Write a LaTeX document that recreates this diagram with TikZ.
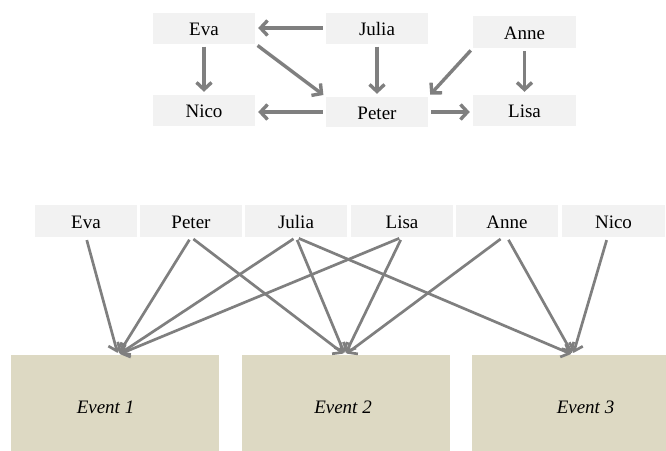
\documentclass[tikz,border=0pt]{standalone}
\usepackage{fontspec}
\setmainfont{Liberation Serif}
\usetikzlibrary{arrows.meta}
\definecolor{boxgray}{HTML}{F2F2F2}
\definecolor{tanbox}{HTML}{DDD9C3}
\definecolor{arrgray}{HTML}{7F7F7F}
\begin{document}
\begin{tikzpicture}[x=1pt,y=-1pt,
  pbox/.style={fill=boxgray, inner sep=0pt, minimum width=102pt, minimum height=31pt,
    text height=14.5pt, text depth=0pt, font=\fontsize{19}{22}\selectfont},
  ebox/.style={fill=tanbox, inner sep=0pt},
  etext/.style={anchor=base, inner sep=0pt, font=\fontsize{19}{22}\selectfont\itshape},
  toparr/.style={draw=arrgray, line width=3.4pt,
    -{Straight Barb[length=7pt,width=15pt]}, shorten <=3pt, shorten >=3pt},
  botarr/.style={draw=arrgray, line width=2.7pt,
    -{Straight Barb[length=7pt,width=14pt]}, shorten <=3pt, shorten >=2pt}]
\useasboundingbox (0,0) rectangle (666,450);

% top graph
\node[pbox] (eva) at (204,28) {Eva};
\node[pbox] (julia) at (377,28) {Julia};
\node[pbox, minimum width=103pt, minimum height=32pt] (anne) at (524.5,32) {Anne};
\node[pbox] (nico) at (204,110.5) {Nico};
\node[pbox, minimum height=30pt] (peter) at (377,112) {Peter};
\node[pbox, minimum width=103pt] (lisa) at (524.5,110.5) {Lisa};

\draw[toparr] (julia.west) -- (eva.east);
\draw[toparr] (eva.south) -- (nico.north);
\draw[toparr] (eva.south east) -- (peter.north west);
\draw[toparr] (julia.south) -- (peter.north);
\draw[toparr] (anne.south west) -- (peter.north east);
\draw[toparr] (anne.south) -- (lisa.north);
\draw[toparr] (peter.west) -- (peter.west -| nico.east);
\draw[toparr] (peter.east) -- (peter.east -| lisa.west);

% bottom row
\node[pbox, minimum height=32pt] (eva2) at (86,221) {Eva};
\node[pbox, minimum height=32pt] (peter2) at (191,221) {Peter};
\node[pbox, minimum height=32pt] (julia2) at (296,221) {Julia};
\node[pbox, minimum height=32pt] (lisa2) at (402,221) {Lisa};
\node[pbox, minimum height=32pt] (anne2) at (507,221) {Anne};
\node[pbox, minimum height=32pt, minimum width=103pt] (nico2) at (613.5,221) {Nico};

% events
\node[ebox, minimum width=208pt, minimum height=96pt] (ev1) at (115,403) {};
\node[ebox, minimum width=208pt, minimum height=96pt] (ev2) at (346,403) {};
\node[ebox, minimum width=194pt, minimum height=96pt] (ev3) at (569,403) {};
\node[etext] (ev1t) at (105.5,413) {Event 1};
\node[etext] (ev2t) at (343,413) {Event 2};
\node[etext] (ev3t) at (585.5,413) {Event 3};

\coordinate (t1) at ([xshift=3pt]ev1.north);
\coordinate (t2) at ([xshift=-1pt]ev2.north);
\coordinate (t3) at ([xshift=4pt]ev3.north);

\draw[botarr] (eva2.south) -- (t1);
\draw[botarr] (peter2.south) -- (t1);
\draw[botarr] (peter2.south) -- (t2);
\draw[botarr] (julia2.south) -- (t1);
\draw[botarr] (julia2.south) -- (t2);
\draw[botarr] (julia2.south) -- (t3);
\draw[botarr] (lisa2.south) -- (t1);
\draw[botarr] (lisa2.south) -- (t2);
\draw[botarr] ([xshift=-4pt]anne2.south) -- (t2);
\draw[botarr] (anne2.south) -- (t3);
\draw[botarr] ([xshift=-6pt]nico2.south) -- (t3);
\end{tikzpicture}
\end{document}
